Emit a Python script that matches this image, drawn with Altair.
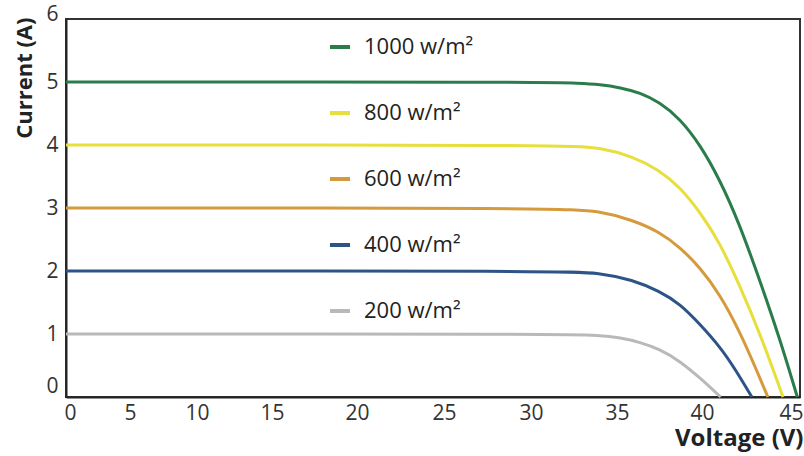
import altair as alt
import pandas as pd

# Irradiance levels (legend order) and line colours
levels = ["1000 w/m²", "800 w/m²", "600 w/m²", "400 w/m²", "200 w/m²"]
colors = ["#2a7d4b", "#e6df3c", "#d49a3c", "#2d5486", "#b9b9b9"]

# I-V curves: voltage (V) and current (A) per irradiance level
v_1000 = [0, 30.5, 32.85, 34.0, 35.2, 36.35, 37.5, 38.7, 39.9, 41.0, 42.1, 43.25, 44.4, 45.35]
i_1000 = [5.0, 5.0, 4.98, 4.96, 4.91, 4.83, 4.68, 4.42, 4.00, 3.45, 2.75, 1.85, 0.90, 0.0]

v_800 = [0, 32.0, 34.0, 35.9, 37.5, 38.7, 39.9, 41.0, 42.1, 43.3, 44.55]
i_800 = [4.0, 4.0, 3.96, 3.82, 3.60, 3.33, 2.93, 2.45, 1.78, 0.98, 0.0]

v_600 = [0, 31.7, 34.0, 35.9, 37.5, 38.7, 39.9, 41.0, 42.1, 43.0, 43.7]
i_600 = [3.0, 3.0, 2.95, 2.81, 2.62, 2.38, 2.05, 1.63, 1.05, 0.47, 0.0]

v_400 = [0, 31.7, 34.0, 35.9, 37.5, 38.7, 39.9, 41.0, 41.85, 42.8]
i_400 = [2.0, 2.0, 1.97, 1.86, 1.68, 1.48, 1.15, 0.80, 0.45, 0.0]

v_200 = [0, 31.7, 34.0, 35.2, 36.35, 37.5, 38.7, 39.9, 41.05]
i_200 = [1.0, 1.0, 0.98, 0.94, 0.87, 0.76, 0.57, 0.30, 0.0]

# Voltage axis ticks and their (uneven) screen positions along the axis
v_ticks = [0, 5, 10, 15, 20, 25, 30, 35, 40, 45, 45.5]
v_pos = [0, 64, 131, 206, 291, 378, 465, 551, 636, 725, 734]
i_ticks = [0, 1, 2, 3, 4, 5, 6]

series = [v_1000, v_800, v_600, v_400, v_200]
currents = [i_1000, i_800, i_600, i_400, i_200]
rows = []
for lvl, vs, cs in zip(levels, series, currents):
    for order, (v, c) in enumerate(zip(vs, cs)):
        rows.append({"level": lvl, "voltage": v, "current": c, "order": order})
df = pd.DataFrame(rows)

FONT = "Open Sans"

chart = alt.Chart(df).mark_line(strokeWidth=3, interpolate="basis").encode(
    x=alt.X(
        "voltage:Q",
        scale=alt.Scale(domain=v_ticks, range=v_pos, nice=False, zero=False),
        axis=alt.Axis(
            values=v_ticks[:-1],
            title="Voltage (V)",
            titleFont=FONT,
            titleFontSize=24,
            titleFontWeight="bold",
            titleColor="#222",
            titleAnchor="end",
            titleAlign="right",
            titleBaseline="alphabetic",
            titleX=737,
            titleY=48,
            labelFont=FONT,
            labelFontSize=21,
            labelColor="#333",
            labelPadding=5,
            labelFlush=False,
            labelOffset={"expr": "datum.value == 0 ? 4 : 0"},
            ticks=False,
            grid=False,
            domainColor="#222",
            domainWidth=2,
        ),
    ),
    y=alt.Y(
        "current:Q",
        scale=alt.Scale(domain=[0, 6], nice=False),
        axis=alt.Axis(
            values=i_ticks,
            title="Current (A)",
            titleFont=FONT,
            titleFontSize=22,
            titleFontWeight="bold",
            titleColor="#222",
            titleAngle=270,
            titleAlign="right",
            titleBaseline="alphabetic",
            titleX=-35,
            titleY=-2,
            labelFont=FONT,
            labelFontSize=21,
            labelColor="#333",
            labelPadding=8,
            labelOffset={"expr": "datum.value == 0 ? -11 : (datum.value == 6 ? -5 : 0)"},
            ticks=False,
            grid=False,
            domainColor="#222",
            domainWidth=2,
        ),
    ),
    color=alt.Color(
        "level:N",
        scale=alt.Scale(domain=levels, range=colors),
        sort=levels,
        legend=alt.Legend(
            title=None,
            orient="none",
            legendX=262,
            legendY=16,
            padding=0,
            symbolType="stroke",
            symbolSize=400,
            symbolStrokeWidth=4,
            labelFont=FONT,
            labelFontSize=22,
            labelColor="#222",
            labelOffset=12,
            rowPadding=43,
        ),
    ),
    order="order:Q",
).properties(
    width=734,
    height=378,
    autosize=alt.AutoSizeParams(type="none"),
    padding={"left": 66, "top": 19, "right": 4, "bottom": 59},
    background="white",
).configure_view(
    stroke="#333",
    strokeWidth=2,
)

chart.save("out.html", embed_options={"renderer": "svg", "actions": False})
